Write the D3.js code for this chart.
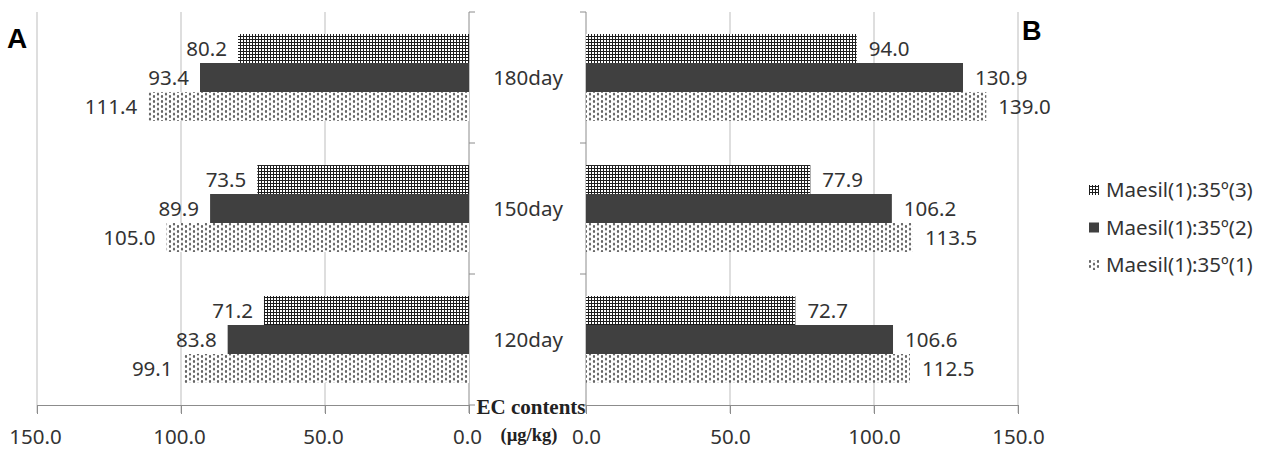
<!DOCTYPE html>
<html>
<head>
<meta charset="utf-8">
<script src="https://cdn.jsdelivr.net/npm/d3@7"></script>
<style>
  body { margin: 0; background: #fff; }
  text { font-family: "Noto Sans", sans-serif; }
</style>
</head>
<body>
<div id="chart"></div>
<script>
// data
const days = ["180day", "150day", "120day"];
const seriesNames = ["Maesil(1):35º(3)", "Maesil(1):35º(2)", "Maesil(1):35º(1)"];
const ticks = [0, 50, 100, 150];

// panel A (left)
const a3 = [80.2, 73.5, 71.2];
const a2 = [93.4, 89.9, 83.8];
const a1 = [111.4, 105.0, 99.1];
// panel B (right)
const b3 = [94.0, 77.9, 72.7];
const b2 = [130.9, 106.2, 106.6];
const b1 = [139.0, 113.5, 112.5];

const W = 1268, H = 452;
const plotTop = 12, plotBottom = 405;

const svg = d3.select('#chart').append('svg')
  .attr('width', W).attr('height', H);

// patterns
const defs = svg.append('defs');
const grid = defs.append('pattern').attr('id', 'grid')
  .attr('patternUnits', 'userSpaceOnUse').attr('width', 3).attr('height', 3);
grid.append('rect').attr('width', 3).attr('height', 3).attr('fill', '#fff');
grid.append('rect').attr('width', 3).attr('height', 1).attr('fill', '#1e1e1e');
grid.append('rect').attr('width', 1).attr('height', 3).attr('fill', '#1e1e1e');

const dots = defs.append('pattern').attr('id', 'dots')
  .attr('patternUnits', 'userSpaceOnUse').attr('width', 8).attr('height', 5);
dots.append('rect').attr('width', 8).attr('height', 5).attr('fill', '#fff');
[[2, 1.5], [6, 4], [6, -1]].forEach(([cx, cy]) => {
  dots.append('ellipse').attr('cx', cx).attr('cy', cy)
    .attr('rx', 1.1).attr('ry', 1.6).attr('fill', '#666');
});

const fills = ['url(#grid)', '#404040', 'url(#dots)'];

// scales
const xL = d3.scaleLinear().domain([150, 0]).range([37, 469]);
const xR = d3.scaleLinear().domain([0, 150]).range([586, 1018]);
const y = d3.scaleBand().domain(days).range([plotTop, plotBottom]);
const yIn = d3.scaleBand().domain(d3.range(3)).range([0, y.bandwidth()]).paddingOuter(0.76);

function panel(x, cols, side) {
  const g = svg.append('g');
  const zero = x(0);
  // gridlines
  g.selectAll('line.grid').data(ticks.filter(t => t > 0)).enter().append('line')
    .attr('x1', d => x(d)).attr('x2', d => x(d))
    .attr('y1', plotTop).attr('y2', plotBottom + 8)
    .attr('stroke', '#bdbdbd');
  g.append('line').attr('x1', zero).attr('x2', zero)
    .attr('y1', plotTop).attr('y2', plotBottom + 8).attr('stroke', '#8c8c8c');
  // bottom axis
  const ax = g.append('g').attr('transform', `translate(0,${plotBottom})`)
    .call(d3.axisBottom(x).tickValues(ticks).tickSize(9).tickFormat(d3.format('.1f')));
  ax.select('.domain').attr('stroke', '#8c8c8c');
  ax.selectAll('.tick line').attr('stroke', '#8c8c8c');
  ax.selectAll('.tick text').attr('font-size', 20.5).attr('fill', '#333')
    .attr('font-family', '"Noto Sans", sans-serif').attr('dy', '1.3em')
    .attr('dx', side === 'L' ? -2 : 0);
  // category ticks
  const dir = side === 'L' ? 6 : -6;
  g.selectAll('line.ct').data(y.domain().map(d => y(d)).concat([plotBottom])).enter().append('line')
    .attr('x1', zero).attr('x2', zero + dir)
    .attr('y1', d => d).attr('y2', d => d).attr('stroke', '#8c8c8c');

  days.forEach((day, i) => {
    cols.forEach((vals, s) => {
      const v = vals[i];
      const y0 = y(day) + yIn(s);
      const x0 = Math.min(x(0), x(v));
      g.append('rect').attr('x', x0).attr('y', y0)
        .attr('width', Math.abs(x(v) - x(0))).attr('height', yIn.bandwidth())
        .attr('fill', fills[s]);
      g.append('text')
        .attr('x', side === 'L' ? x(v) - 11 : x(v) + 12)
        .attr('y', y0 + yIn.bandwidth() / 2)
        .attr('dy', '0.36em')
        .attr('text-anchor', side === 'L' ? 'end' : 'start')
        .attr('font-size', 20.5).attr('fill', '#333')
        .text(v.toFixed(1));
    });
  });
}

panel(xL, [a3, a2, a1], 'L');
panel(xR, [b3, b2, b1], 'R');

// category labels
svg.selectAll('text.cat').data(days).enter().append('text')
  .attr('x', 528).attr('y', d => y(d) + y.bandwidth() / 2)
  .attr('dy', '0.36em').attr('text-anchor', 'middle')
  .attr('font-size', 20.5).attr('fill', '#333')
  .text(d => d);

// axis title
svg.append('text').attr('x', 531).attr('y', 414).attr('text-anchor', 'middle')
  .style('font-family', '"Liberation Serif", serif').attr('font-weight', 'bold')
  .attr('font-size', 21).attr('fill', '#222').text('EC contents');
svg.append('text').attr('x', 529).attr('y', 441).attr('text-anchor', 'middle')
  .style('font-family', '"Liberation Serif", serif').attr('font-weight', 'bold')
  .attr('font-size', 18.5).attr('fill', '#222').text('(µg/kg)');

// panel letters
svg.append('text').attr('x', 7).attr('y', 48).attr('font-size', 28)
  .attr('font-weight', 'bold').style('font-family', '"Liberation Sans", Arial, sans-serif')
  .text('A');
svg.append('text').attr('x', 1022).attr('y', 40).attr('font-size', 27)
  .attr('font-weight', 'bold').style('font-family', '"Liberation Sans", Arial, sans-serif')
  .text('B');

// legend
const leg = svg.append('g');
seriesNames.forEach((name, i) => {
  const ly = 190 + i * 37.5;
  leg.append('rect').attr('x', 1089).attr('y', ly - 5).attr('width', 10).attr('height', 10)
    .attr('fill', fills[i]);
  leg.append('text').attr('x', 1106).attr('y', ly).attr('dy', '0.36em')
    .attr('font-size', 20.5).attr('fill', '#333').text(name);
});
</script>
</body>
</html>
